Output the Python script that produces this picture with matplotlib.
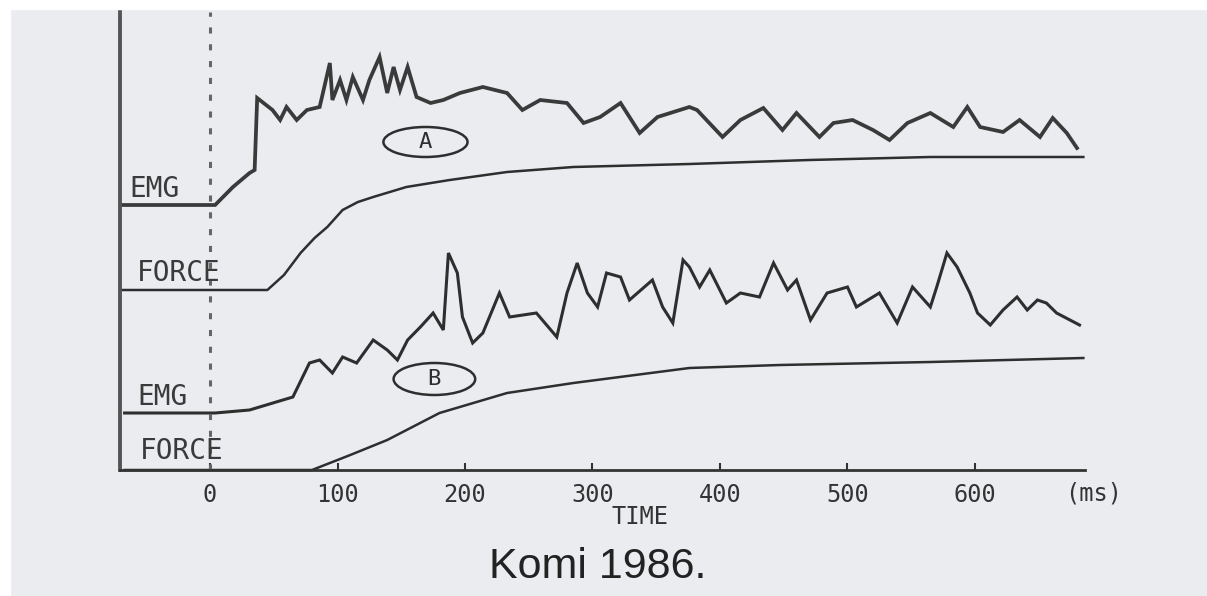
import matplotlib
matplotlib.use('Agg')
import matplotlib.pyplot as plt
from matplotlib.patches import Ellipse, Rectangle

# Trace A (fast start): EMG and force, time in ms, height in chart units
emg_a_t = [-71, 4, 18, 31, 35, 37, 49, 55, 60, 68, 76, 86, 94, 96, 102, 107, 112, 120, 125, 133,
           139, 144, 149, 155, 162, 173, 183, 196, 214, 233, 245, 259, 280, 293, 306, 322, 337, 351,
           376, 382, 402, 416, 434, 449, 460, 478, 489, 504, 520, 533, 547, 565, 583, 594, 604, 622,
           635, 651, 661, 672, 680]
emg_a_y = [265, 265, 283, 297, 300, 372, 360, 350, 363, 350, 360, 363, 407, 370, 390, 370, 393, 370, 390, 413,
           377, 403, 380, 403, 373, 367, 370, 377, 383, 377, 360, 370, 367, 347, 353, 367, 337, 353,
           363, 360, 333, 350, 362, 340, 357, 333, 347, 350, 340, 330, 347, 357, 343, 363, 343, 338,
           350, 333, 352, 337, 322]

force_a_t = [-71, 45, 58, 71, 82, 92, 104, 116, 128, 154, 188, 233, 285, 376, 470, 565, 685]
force_a_y = [180, 180, 195, 217, 232, 243, 260, 268, 273, 283, 290, 298, 303, 306, 310, 313, 313]

# Trace B (slow start)
emg_b_t = [-67, 4, 31, 65, 78, 86, 96, 104, 115, 128, 139, 147, 155, 165, 175, 183, 187, 194, 198, 206,
           214, 227, 235, 256, 272, 280, 288, 296, 304, 311, 322, 329, 347, 355, 363, 371, 376, 384,
           392, 405, 416, 431, 442, 453, 460, 471, 484, 500, 507, 525, 539, 551, 565, 570, 578, 586,
           596, 602, 612, 622, 633, 641, 649, 656, 664, 682]
emg_b_y = [57, 57, 60, 73, 107, 110, 97, 113, 107, 130, 120, 110, 130, 143, 157, 140, 217, 197, 153, 127,
           137, 177, 153, 157, 133, 177, 207, 177, 163, 197, 193, 170, 190, 163, 147, 210, 203, 183,
           200, 167, 177, 173, 207, 180, 190, 150, 177, 183, 163, 177, 147, 183, 163, 183, 217, 203,
           177, 157, 145, 160, 173, 160, 170, 167, 157, 145]

force_b_t = [-67, 80, 110, 139, 180, 233, 285, 376, 447, 565, 685]
force_b_y = [0, 0, 15, 30, 57, 77, 87, 102, 105, 108, 112]

time_ticks = [0, 100, 200, 300, 400, 500, 600]

ink = '#2e2e2e'
mono = 'DejaVu Sans Mono'

fig = plt.figure(figsize=(12.07, 5.96), dpi=100)
fig.patch.set_facecolor('#eaecf0')
# white margin of the scan
fig.patches.append(Rectangle((0, 0.985), 1, 0.015, transform=fig.transFigure, color='white', zorder=0))
fig.patches.append(Rectangle((0, 0), 0.008, 1, transform=fig.transFigure, color='white', zorder=0))

ax = fig.add_axes([120 / 1207, 126 / 596, 965 / 1207, 458 / 596])
ax.set_facecolor('none')
ax.set_xlim(-70.6, 686.3)
ax.set_ylim(0, 458)

# traces
ax.plot(emg_a_t, emg_a_y, color='#3a3a3a', lw=2.7, solid_joinstyle='miter')
ax.plot(force_a_t, force_a_y, color=ink, lw=1.8)
ax.plot(emg_b_t, emg_b_y, color=ink, lw=2.2, solid_joinstyle='miter')
ax.plot(force_b_t, force_b_y, color=ink, lw=1.8, clip_on=False)

# stimulus onset
ax.axvline(0, color='#666666', lw=2.2, ls=(0, (2, 3.5)))

# trace labels
lab = dict(family=mono, fontsize=20, color='#3a3a3a', va='bottom', ha='left')
ax.text(-63, 267, 'EMG', **lab)
ax.text(-57, 183, 'FORCE', **lab)
ax.text(-57, 59, 'EMG', **lab)
ax.text(-55, 5, 'FORCE', **lab)

# circled A / B
for (cx, cy, w, h, letter) in [(169, 328, 66, 30, 'A'), (176, 91, 64, 32, 'B')]:
    ax.add_patch(Ellipse((cx, cy), w, h, fill=False, ec=ink, lw=1.8))
    ax.text(cx, cy, letter, family=mono, fontsize=16, color=ink, ha='center', va='center')

# axes
for s in ['top', 'right']:
    ax.spines[s].set_visible(False)
ax.spines['left'].set_color('#555555')
ax.spines['left'].set_linewidth(2.8)
ax.spines['bottom'].set_color('#333333')
ax.spines['bottom'].set_linewidth(2)
ax.set_yticks([])
ax.set_xticks(time_ticks)
ax.set_xticklabels([str(t) for t in time_ticks], family=mono, fontsize=17, color='#333333')
ax.tick_params(axis='x', direction='in', length=5, width=1.5, color='#333333', pad=9)

ax.text(693, -24, '(ms)', family=mono, fontsize=17, color='#333333', ha='center', va='center', clip_on=False)
ax.text(337, -47, 'TIME', family=mono, fontsize=17, color='#333333', ha='center', va='center', clip_on=False)
ax.text(304, -97, 'Komi 1986.', family='Liberation Sans', fontsize=31, color='#222222',
        ha='center', va='center', clip_on=False)

fig.savefig('out.png', dpi=100, facecolor=fig.get_facecolor())
